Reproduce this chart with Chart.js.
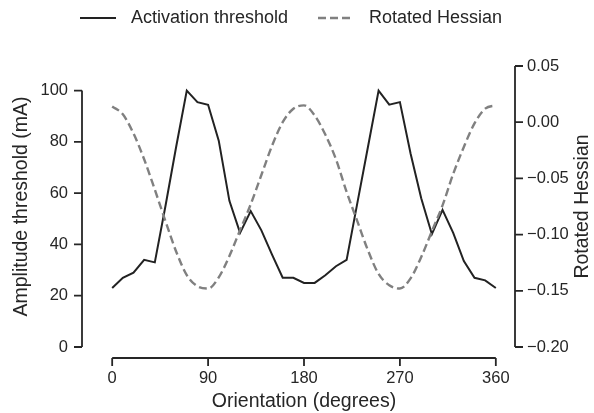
<!DOCTYPE html>
<html>
<head>
<meta charset="utf-8">
<script src="https://cdn.jsdelivr.net/npm/chart.js@4.4.1/dist/chart.umd.min.js"></script>
<style>
  html, body { margin: 0; padding: 0; background: #fff; }
  #wrap { width: 594px; height: 413px; }
</style>
</head>
<body>
<div id="wrap"><canvas id="chart" width="594" height="413"></canvas></div>
<script>
// данные
const orientation = [0, 10, 20, 30, 40, 50, 60, 70, 80, 90, 100, 110, 120, 130, 140, 150, 160, 170, 180,
  190, 200, 210, 220, 230, 240, 250, 260, 270, 280, 290, 300, 310, 320, 330, 340, 350, 360];
const threshold = [23, 27, 29, 34, 33, 55, 78, 100, 95.5, 94.5, 80.5, 57, 44.5, 53, 45.5, 36, 27, 27, 25,
  25, 28, 31.5, 34, 56, 78, 100, 94.5, 95.5, 75.5, 58, 44, 53.5, 44.5, 33.5, 27, 26, 23];
const hessian = [0.014, 0.007, -0.010, -0.033, -0.060, -0.088, -0.115, -0.136, -0.146, -0.148, -0.138,
  -0.119, -0.096, -0.073, -0.047, -0.021, 0.000, 0.012, 0.015, 0.006, -0.011, -0.033, -0.062, -0.088,
  -0.114, -0.135, -0.145, -0.148, -0.139, -0.120, -0.097, -0.074, -0.046, -0.022, -0.001, 0.012, 0.015];
const xTicks = [0, 90, 180, 270, 360];
const leftTicks = [0, 20, 40, 60, 80, 100];
const rightTicks = [-0.2, -0.15, -0.1, -0.05, 0, 0.05];

const ink = '#262626';
const fontFamily = '"Liberation Sans", Arial, sans-serif';
const spineOffset = 11;
const tickLen = 8;

function setTicks(values) {
  return function(scale) {
    scale.ticks = values.map(v => ({ value: v }));
  };
}

// оси в стиле seaborn: смещённые и обрезанные по крайним делениям
const spinesPlugin = {
  id: 'spines',
  afterDraw(chart) {
    const ctx = chart.ctx;
    const area = chart.chartArea;
    const x = chart.scales.x, y = chart.scales.y, y1 = chart.scales.y1;
    ctx.save();
    ctx.strokeStyle = ink;
    ctx.lineWidth = 1.8;
    ctx.lineCap = 'butt';

    // левая
    const lx = area.left - spineOffset;
    ctx.beginPath();
    ctx.moveTo(lx, y.getPixelForValue(leftTicks[0]));
    ctx.lineTo(lx, y.getPixelForValue(leftTicks[leftTicks.length - 1]));
    leftTicks.forEach(v => {
      const py = y.getPixelForValue(v);
      ctx.moveTo(lx, py);
      ctx.lineTo(lx - tickLen, py);
    });
    ctx.stroke();

    // нижняя
    const by = area.bottom + spineOffset;
    ctx.beginPath();
    ctx.moveTo(x.getPixelForValue(xTicks[0]), by);
    ctx.lineTo(x.getPixelForValue(xTicks[xTicks.length - 1]), by);
    xTicks.forEach(v => {
      const px = x.getPixelForValue(v);
      ctx.moveTo(px, by);
      ctx.lineTo(px, by + tickLen);
    });
    ctx.stroke();

    // правая
    const rx = area.right;
    ctx.beginPath();
    ctx.moveTo(rx, y1.getPixelForValue(rightTicks[0]));
    ctx.lineTo(rx, y1.getPixelForValue(rightTicks[rightTicks.length - 1]));
    rightTicks.forEach(v => {
      const py = y1.getPixelForValue(v);
      ctx.moveTo(rx, py);
      ctx.lineTo(rx + tickLen, py);
    });
    ctx.stroke();

    // подпись правой оси (снизу вверх)
    ctx.fillStyle = ink;
    ctx.font = '19.5px ' + fontFamily;
    ctx.textAlign = 'center';
    ctx.textBaseline = 'middle';
    ctx.translate(583, (area.top + area.bottom) / 2);
    ctx.rotate(-Math.PI / 2);
    ctx.fillText('Rotated Hessian', 0, 0);
    ctx.restore();

    // легенда
    ctx.save();
    ctx.font = '18px ' + fontFamily;
    ctx.fillStyle = ink;
    ctx.textBaseline = 'middle';
    ctx.textAlign = 'left';
    const ly = 18;
    ctx.lineWidth = 2;
    ctx.strokeStyle = '#222222';
    ctx.beginPath();
    ctx.moveTo(80, ly);
    ctx.lineTo(116, ly);
    ctx.stroke();
    ctx.fillText('Activation threshold', 131, ly);
    ctx.strokeStyle = '#808080';
    ctx.lineWidth = 2.4;
    ctx.setLineDash([8, 4]);
    ctx.beginPath();
    ctx.moveTo(318, ly);
    ctx.lineTo(354, ly);
    ctx.stroke();
    ctx.setLineDash([]);
    ctx.fillText('Rotated Hessian', 369, ly);
    ctx.restore();
  }
};

const ctx = document.getElementById('chart').getContext('2d');
new Chart(ctx, {
  type: 'line',
  data: {
    datasets: [
      {
        label: 'Activation threshold',
        data: orientation.map((o, i) => ({ x: o, y: threshold[i] })),
        yAxisID: 'y',
        borderColor: '#222222',
        borderWidth: 2,
        pointRadius: 0,
        tension: 0,
        order: 2
      },
      {
        label: 'Rotated Hessian',
        data: orientation.map((o, i) => ({ x: o, y: hessian[i] })),
        yAxisID: 'y1',
        borderColor: '#808080',
        borderWidth: 2.4,
        borderDash: [8, 4],
        pointRadius: 0,
        cubicInterpolationMode: 'monotone',
        order: 1
      }
    ]
  },
  options: {
    responsive: false,
    animation: false,
    devicePixelRatio: 1,
    layout: { padding: { top: 66, left: 0, right: 0, bottom: 0 } },
    plugins: {
      legend: { display: false },
      tooltip: { enabled: false }
    },
    scales: {
      x: {
        type: 'linear',
        min: -18,
        max: 378,
        afterBuildTicks: setTicks(xTicks),
        afterFit: function(scale) { scale.height = 66; },
        grid: { display: false, drawTicks: false },
        border: { display: false },
        ticks: {
          color: ink,
          font: { size: 16.5, family: fontFamily },
          padding: 22,
          maxRotation: 0
        },
        title: {
          display: true,
          text: 'Orientation (degrees)',
          color: ink,
          font: { size: 19.5, family: fontFamily },
          padding: 0
        }
      },
      y: {
        position: 'left',
        min: 0,
        max: 109.6,
        afterBuildTicks: setTicks(leftTicks),
        afterFit: function(scale) { scale.width = 93; },
        grid: { display: false, drawTicks: false },
        border: { display: false },
        ticks: {
          color: ink,
          font: { size: 16.5, family: fontFamily },
          padding: 25
        },
        title: {
          display: true,
          text: 'Amplitude threshold (mA)',
          color: ink,
          font: { size: 19.5, family: fontFamily },
          padding: 10
        }
      },
      y1: {
        position: 'right',
        min: -0.2,
        max: 0.05,
        afterBuildTicks: setTicks(rightTicks),
        afterFit: function(scale) { scale.width = 79; },
        grid: { display: false, drawTicks: false },
        border: { display: false },
        ticks: {
          color: ink,
          font: { size: 16.5, family: fontFamily },
          padding: 12,
          callback: function(value) {
            return value.toFixed(2).replace('-', '\u2212');
          }
        }
      }
    }
  },
  plugins: [spinesPlugin]
});
</script>
</body>
</html>
